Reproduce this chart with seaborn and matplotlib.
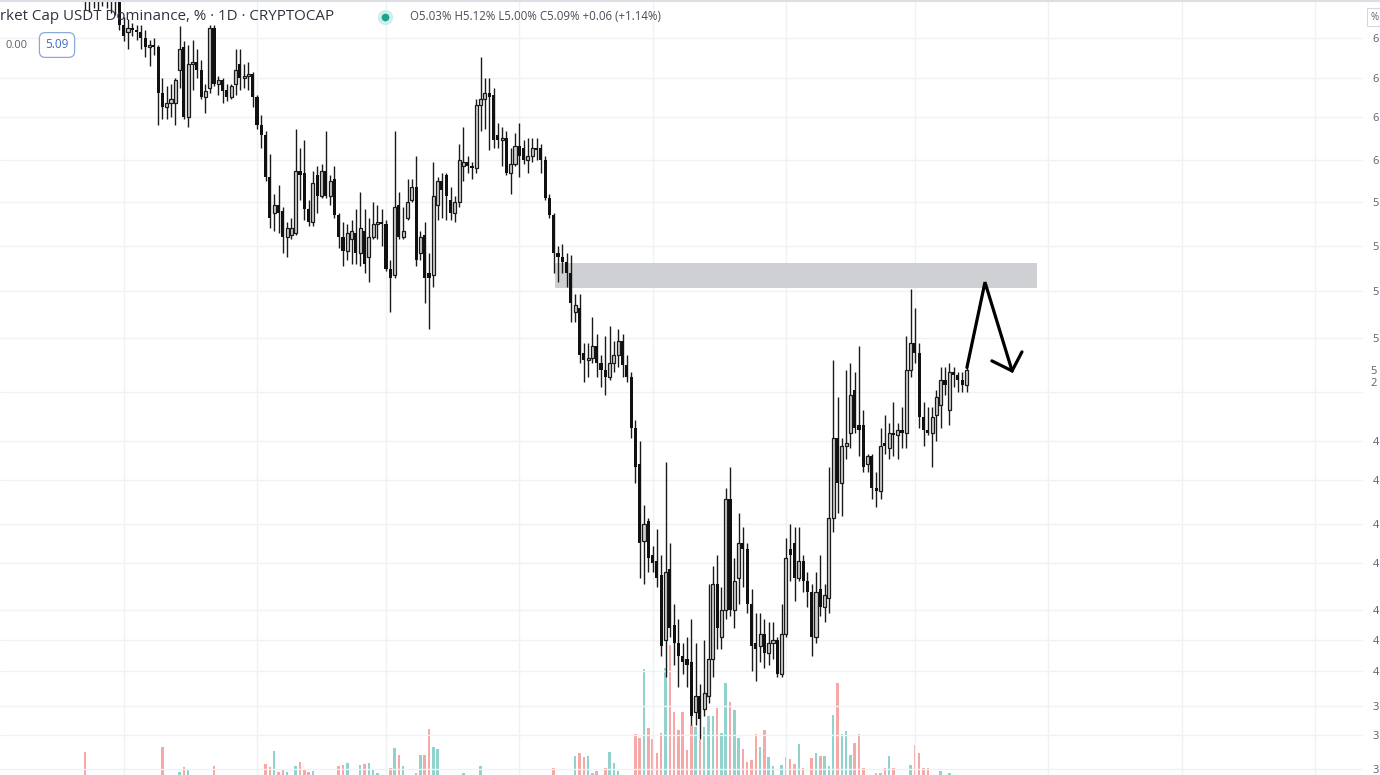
import matplotlib
matplotlib.use('Agg')
import matplotlib.pyplot as plt
import seaborn as sns
import numpy as np
import pandas as pd
from matplotlib.lines import Line2D
from matplotlib.patches import Rectangle
from matplotlib.ticker import NullLocator

# daily candles, USDT dominance in %
opens = [6.93, 6.87, 6.91, 6.85, 6.89, 6.94, 6.90, 6.84, 6.87, 6.71,
         6.67, 6.69, 6.68, 6.67, 6.64, 6.59, 6.60, 6.59, 6.35, 6.28,
         6.30, 6.30, 6.47, 6.59, 6.23, 6.50, 6.51, 6.47, 6.33, 6.38,
         6.69, 6.40, 6.42, 6.37, 6.33, 6.40, 6.50, 6.43, 6.44, 6.45,
         6.33, 6.19, 6.14, 5.94, 5.77, 5.81, 5.78, 5.66, 5.67, 5.68,
         5.97, 5.96, 5.79, 5.73, 5.95, 5.85, 5.97, 5.85, 5.93, 5.76,
         5.66, 5.60, 5.65, 5.68, 5.59, 5.69, 5.57, 5.66, 5.72, 5.73,
         5.72, 5.52, 5.49, 5.81, 5.66, 5.75, 5.83, 5.89, 5.59, 5.67,
         5.50, 5.49, 5.81, 5.92, 5.95, 5.83, 5.77, 5.82, 5.99, 6.01,
         5.99, 5.98, 6.29, 6.32, 6.35, 6.34, 6.14, 6.12, 6.13, 5.96,
         6.00, 6.09, 6.08, 6.02, 6.04, 6.08, 6.08, 6.02, 5.84, 5.76,
         5.59, 5.57, 5.55, 5.50, 5.33, 5.35, 5.16, 5.13, 5.14, 5.19,
         5.12, 5.09, 5.06, 5.12, 5.15, 5.21, 5.11, 5.06, 4.86, 4.72,
         4.44, 4.51, 4.39, 4.37, 4.32, 4.10, 4.34, 4.15, 4.09, 4.05,
         4.04, 4.03, 3.87, 3.92, 3.88, 3.92, 4.04, 4.29, 4.11, 4.20,
         4.59, 4.20, 4.31, 4.43, 4.41, 4.22, 4.09, 4.08, 4.12, 4.06,
         4.09, 4.10, 3.99, 4.12, 4.41, 4.43, 4.31, 4.37, 4.30, 4.26,
         4.11, 4.27, 4.21, 4.24, 4.52, 4.82, 4.65, 4.79, 4.84, 5.01,
         4.87, 4.87, 4.72, 4.75, 4.63, 4.62, 4.80, 4.78, 4.84, 4.83,
         4.85, 4.84, 5.09, 5.20, 5.16, 4.90, 4.85, 4.84, 4.91, 4.95,
         5.05, 4.93, 5.08, 5.07, 5.05, 5.03]
highs = [7.01, 6.95, 6.98, 6.93, 6.98, 7.01, 6.96, 6.91, 6.90, 6.75,
         6.74, 6.72, 6.71, 6.71, 6.68, 6.63, 6.64, 6.60, 6.43, 6.39,
         6.40, 6.43, 6.70, 6.62, 6.60, 6.63, 6.58, 6.52, 6.40, 6.71,
         6.71, 6.44, 6.43, 6.40, 6.40, 6.58, 6.58, 6.50, 6.51, 6.46,
         6.34, 6.24, 6.16, 6.05, 5.86, 5.90, 5.80, 5.73, 5.75, 6.17,
         6.08, 6.12, 5.83, 5.97, 5.99, 6.00, 6.16, 5.95, 5.99, 5.77,
         5.73, 5.72, 5.74, 5.79, 5.87, 5.79, 5.75, 5.82, 5.81, 5.79,
         5.74, 5.56, 6.16, 5.87, 5.80, 5.93, 5.93, 6.04, 5.69, 5.73,
         5.59, 6.01, 5.94, 5.96, 5.96, 5.89, 5.85, 6.10, 6.18, 6.04,
         6.01, 6.32, 6.54, 6.43, 6.43, 6.38, 6.20, 6.18, 6.16, 6.08,
         6.15, 6.20, 6.12, 6.13, 6.13, 6.13, 6.10, 6.04, 5.86, 5.77,
         5.62, 5.63, 5.59, 5.58, 5.41, 5.41, 5.20, 5.20, 5.31, 5.24,
         5.15, 5.23, 5.27, 5.21, 5.26, 5.24, 5.15, 5.08, 4.89, 4.81,
         4.57, 4.52, 4.42, 4.48, 4.39, 4.73, 4.43, 4.22, 4.17, 4.09,
         4.11, 4.17, 4.09, 3.96, 4.10, 4.29, 4.35, 4.39, 4.28, 4.63,
         4.71, 4.38, 4.54, 4.49, 4.43, 4.27, 4.19, 4.19, 4.17, 4.16,
         4.16, 4.11, 4.22, 4.45, 4.50, 4.49, 4.49, 4.39, 4.33, 4.29,
         4.33, 4.39, 4.29, 4.71, 5.13, 4.98, 4.82, 5.09, 5.12, 5.08,
         5.19, 4.93, 4.76, 4.76, 4.69, 4.86, 4.91, 4.88, 4.96, 4.88,
         4.94, 5.23, 5.43, 5.35, 5.20, 4.96, 4.94, 4.94, 5.01, 5.10,
         5.10, 5.12, 5.10, 5.08, 5.08, 5.12]
lows = [6.79, 6.78, 6.80, 6.79, 6.81, 6.80, 6.77, 6.76, 6.68, 6.62,
        6.58, 6.65, 6.63, 6.58, 6.54, 6.49, 6.55, 6.19, 6.22, 6.22,
        6.23, 6.19, 6.38, 6.22, 6.18, 6.37, 6.43, 6.32, 6.25, 6.35,
        6.39, 6.34, 6.30, 6.31, 6.32, 6.34, 6.37, 6.38, 6.37, 6.28,
        6.17, 6.08, 5.92, 5.70, 5.69, 5.68, 5.59, 5.57, 5.65, 5.67,
        5.83, 5.74, 5.71, 5.71, 5.77, 5.84, 5.84, 5.81, 5.75, 5.61,
        5.53, 5.56, 5.54, 5.54, 5.53, 5.50, 5.46, 5.65, 5.65, 5.62,
        5.51, 5.33, 5.48, 5.65, 5.65, 5.74, 5.82, 5.53, 5.56, 5.37,
        5.26, 5.44, 5.74, 5.75, 5.74, 5.74, 5.73, 5.80, 5.92, 5.96,
        5.93, 5.96, 6.16, 6.17, 6.07, 6.08, 6.08, 5.99, 5.95, 5.86,
        5.99, 5.94, 6.00, 5.96, 6.01, 6.02, 5.96, 5.83, 5.75, 5.50,
        5.46, 5.50, 5.44, 5.29, 5.29, 5.12, 5.04, 5.06, 5.12, 5.06,
        5.02, 4.99, 5.05, 5.08, 5.10, 5.06, 5.04, 4.82, 4.65, 4.31,
        4.29, 4.33, 4.33, 4.28, 4.05, 3.98, 4.11, 4.02, 3.95, 3.99,
        3.95, 3.83, 3.83, 3.79, 3.86, 3.90, 3.98, 4.07, 4.07, 4.17,
        4.18, 4.14, 4.22, 4.28, 4.19, 4.00, 3.97, 4.03, 4.01, 4.02,
        4.04, 3.98, 3.98, 4.11, 4.30, 4.23, 4.30, 4.26, 4.21, 4.05,
        4.09, 4.18, 4.16, 4.19, 4.47, 4.54, 4.53, 4.74, 4.78, 4.84,
        4.75, 4.69, 4.69, 4.59, 4.56, 4.59, 4.76, 4.74, 4.75, 4.74,
        4.78, 4.78, 5.06, 5.12, 4.86, 4.79, 4.83, 4.71, 4.81, 4.86,
        4.99, 4.87, 5.02, 5.00, 5.00, 5.00]
closes = [6.87, 6.91, 6.85, 6.89, 6.94, 6.90, 6.84, 6.87, 6.71, 6.65,
          6.69, 6.68, 6.67, 6.64, 6.59, 6.60, 6.59, 6.35, 6.28, 6.30,
          6.32, 6.42, 6.58, 6.23, 6.50, 6.51, 6.47, 6.33, 6.36, 6.69,
          6.40, 6.42, 6.36, 6.33, 6.39, 6.47, 6.43, 6.44, 6.45, 6.33,
          6.19, 6.14, 5.94, 5.75, 5.81, 5.77, 5.66, 5.70, 5.70, 5.97,
          5.95, 5.79, 5.73, 5.91, 5.85, 5.97, 5.85, 5.92, 5.76, 5.66,
          5.60, 5.68, 5.69, 5.59, 5.70, 5.54, 5.66, 5.72, 5.73, 5.72,
          5.52, 5.48, 5.80, 5.66, 5.69, 5.82, 5.89, 5.56, 5.66, 5.48,
          5.48, 5.85, 5.92, 5.88, 5.85, 5.77, 5.82, 6.02, 6.01, 5.99,
          5.98, 6.29, 6.32, 6.35, 6.33, 6.12, 6.12, 6.13, 5.96, 6.00,
          6.09, 6.04, 6.02, 6.04, 6.08, 6.07, 6.02, 5.84, 5.76, 5.59,
          5.57, 5.55, 5.50, 5.37, 5.36, 5.15, 5.13, 5.14, 5.19, 5.12,
          5.09, 5.06, 5.12, 5.15, 5.21, 5.11, 5.06, 4.86, 4.71, 4.43,
          4.50, 4.38, 4.36, 4.31, 4.08, 4.33, 4.14, 4.09, 4.05, 4.03,
          4.02, 3.86, 3.92, 3.85, 3.93, 4.04, 4.29, 4.14, 4.20, 4.59,
          4.20, 4.30, 4.43, 4.41, 4.22, 4.08, 4.07, 4.12, 4.06, 4.09,
          4.10, 3.99, 4.12, 4.38, 4.39, 4.31, 4.37, 4.30, 4.26, 4.11,
          4.26, 4.21, 4.25, 4.52, 4.82, 4.65, 4.79, 4.80, 4.99, 4.86,
          4.85, 4.71, 4.75, 4.63, 4.62, 4.79, 4.79, 4.84, 4.83, 4.85,
          4.84, 5.09, 5.20, 5.16, 4.90, 4.85, 4.84, 4.90, 4.98, 5.05,
          5.03, 5.08, 5.07, 5.05, 5.03, 5.09]
# only the tops of the volume bars are visible (the pane is cut at the bottom)
volume = [23, 0, 0, 0, 0, 0, 0, 0, 0, 0,
          0, 0, 0, 0, 0, 0, 0, 0, 28, 0,
          0, 0, 3, 8, 6, 0, 0, 0, 0, 0,
          9, 0, 0, 0, 0, 0, 0, 0, 0, 0,
          0, 0, 11, 8, 24, 3, 5, 3, 0, 9,
          13, 6, 3, 4, 0, 0, 0, 0, 0, 9,
          10, 12, 0, 0, 10, 11, 12, 5, 2, 0,
          0, 7, 27, 20, 9, 0, 0, 2, 20, 20,
          46, 28, 26, 0, 0, 0, 0, 0, 2, 0,
          0, 0, 9, 0, 0, 0, 0, 0, 0, 0,
          0, 0, 0, 0, 0, 0, 0, 0, 0, 7,
          0, 0, 0, 0, 19, 22, 18, 19, 2, 4,
          0, 7, 23, 12, 4, 0, 0, 0, 41, 37,
          106, 47, 36, 22, 42, 107, 130, 63, 45, 63,
          25, 50, 48, 35, 48, 59, 59, 67, 42, 92,
          73, 65, 37, 26, 13, 15, 41, 28, 45, 18,
          9, 0, 10, 18, 16, 11, 31, 7, 0, 17,
          22, 19, 19, 9, 60, 92, 41, 44, 20, 32,
          41, 7, 0, 0, 2, 2, 7, 19, 7, 0,
          0, 0, 10, 30, 22, 7, 7, 0, 0, 4,
          0, 2, 0, 0, 0, 0]

price_ticks = [6.64, 6.43, 6.23, 6.02, 5.82, 5.62, 5.42, 5.22, 5.00, 4.81,
               4.66, 4.50, 4.36, 4.20, 4.10, 4.00, 3.89, 3.80, 3.70]
# the screenshot cuts the price scale after the first digit
tick_labels = ['6', '6', '6', '6', '5', '5', '5', '5', '', '4',
               '4', '4', '4', '4', '4', '4', '3', '3', '3']
month_starts = [9, 40, 70, 101, 132, 163, 193, 224, 255, 286]

# hand-drawn annotations
zone_start, zone_end = 109.3, 221.4
zone_low, zone_high = 5.435, 5.545
arrow_x = [205.1, 209.3, 215.6]
arrow_y = [5.10, 5.46, 5.086]
head_x = [210.9, 215.6, 217.9]
head_y = [5.127, 5.086, 5.164]

df = pd.DataFrame({'day': np.arange(len(closes)), 'open': opens, 'high': highs,
                   'low': lows, 'close': closes, 'volume': volume})
df['dir'] = np.where(df['close'] >= df['open'], 'up', 'down')

sns.set_style('white')
plt.rcParams['font.family'] = ['Open Sans', 'DejaVu Sans']

fig = plt.figure(figsize=(13.8, 7.75), dpi=100)
rect = [0, 0, 1363 / 1380, 1]
vax = fig.add_axes(rect)
ax = fig.add_axes(rect)
ax.patch.set_alpha(0)

# volume pane
sns.barplot(data=df, x='day', y='volume', hue='dir', dodge=False, width=0.6,
            palette={'up': '#92d2cc', 'down': '#f5a8a6'}, saturation=1,
            errorbar=None, legend=False, linewidth=0, ax=vax)
vax.set_ylim(0, 775)
vax.set_xlabel('')
vax.set_ylabel('')
vax.set_xticks([])
vax.set_yticks([])

# candles
up = df['dir'] == 'up'
body_lo = df[['open', 'close']].min(axis=1)
body_h = (df['close'] - df['open']).abs().clip(lower=0.004)
ax.vlines(df['day'], df['low'], df['high'], colors='#1a1a1a', linewidth=1.0, zorder=2)
ax.bar(df['day'][up], body_h[up], bottom=body_lo[up], width=0.72,
       facecolor='#cfcfcf', edgecolor='#1a1a1a', linewidth=0.9, zorder=3)
ax.bar(df['day'][~up], body_h[~up], bottom=body_lo[~up], width=0.72,
       color='#111111', linewidth=0, zorder=3)

ax.set_yscale('log')
ax.set_ylim(3.681, 6.843)
xl = (-85 / 4.3, (1363 - 85) / 4.3)
ax.set_xlim(*xl)
vax.set_xlim(*xl)

ax.add_patch(Rectangle((zone_start, zone_low), zone_end - zone_start, zone_high - zone_low,
                       facecolor='#cfd0d3', edgecolor='none', zorder=1))
ax.plot(arrow_x, arrow_y, color='black', lw=2.3, solid_joinstyle='miter', zorder=5)
ax.plot(head_x, head_y, color='black', lw=2.3, solid_joinstyle='miter', zorder=5)

ax.set_yticks(price_ticks)
ax.set_yticklabels(tick_labels)
ax.yaxis.set_minor_locator(NullLocator())
ax.set_xticks(month_starts)
ax.grid(True, color='#eff1f5', lw=1)
ax.set_axisbelow(True)
ax.tick_params(axis='x', length=0, labelbottom=False)
ax.tick_params(axis='y', left=False, right=False, labelleft=False, labelright=True,
               length=0, pad=7, labelsize=8, labelcolor='#5d606b')
for a in (ax, vax):
    for s in a.spines.values():
        s.set_visible(False)


def fx(px):
    return px / 1380


def fy(py):
    return 1 - py / 775


fig.add_artist(Line2D([0, 1], [fy(1), fy(1)], color='#dcdee3', lw=1.5, transform=fig.transFigure))
fig.text(fx(0), fy(17), 'rket Cap USDT Dominance, % · 1D · CRYPTOCAP', fontsize=10.9,
         color='#2f3241', va='center', ha='left', zorder=6)
fig.add_artist(Line2D([fx(385)], [fy(17)], marker='o', ms=11, mfc='#cdeeea', mec='none',
                      transform=fig.transFigure))
fig.add_artist(Line2D([fx(385)], [fy(17)], marker='o', ms=5.5, mfc='#22a08f', mec='none',
                      transform=fig.transFigure))
fig.text(fx(410), fy(17), 'O5.03% H5.12% L5.00% C5.09% +0.06 (+1.14%)', fontsize=8.3,
         color='#4a4d57', va='center', ha='left')
fig.text(fx(6), fy(45), '0.00', fontsize=8, color='#5d606b', va='center', ha='left')
fig.text(fx(57), fy(45), '5.09', fontsize=8.5, color='#3d6bc4', va='center', ha='center',
         bbox=dict(boxstyle='round,pad=0.5', fc='white', ec='#8aa9dc', lw=0.9))
fig.text(fx(1375), fy(17), '%', fontsize=7, color='#5d606b', va='center', ha='center',
         bbox=dict(boxstyle='square,pad=0.4', fc='white', ec='#d6d8de', lw=0.8))
fig.text(fx(1370), fy(371), '5', fontsize=8, color='#5d606b', va='center', ha='left')
fig.text(fx(1370), fy(384), '2', fontsize=8, color='#5d606b', va='center', ha='left')

fig.savefig('out.png', dpi=100)
